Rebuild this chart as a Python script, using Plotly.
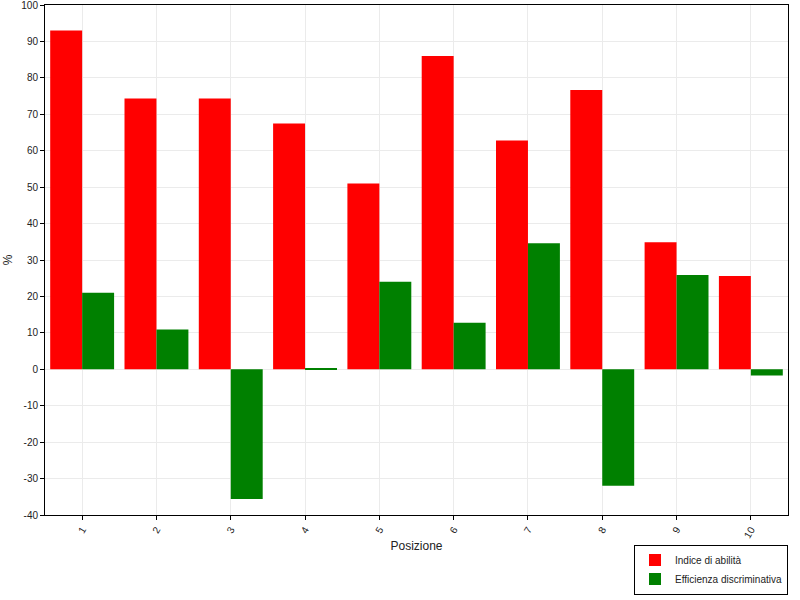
import plotly.graph_objects as go

# Data
positions = ["1", "2", "3", "4", "5", "6", "7", "8", "9", "10"]
indice_abilita = [93.0, 74.3, 74.3, 67.5, 51.0, 86.0, 62.8, 76.7, 34.9, 25.6]
efficienza_discr = [21.0, 10.9, -35.6, 0.3, 24.0, 12.8, 34.6, -32.0, 25.9, -1.7]
y_ticks = list(range(-40, 101, 10))

fig = go.Figure()
fig.add_trace(go.Bar(x=positions, y=indice_abilita, name="Indice di abilità",
                     marker=dict(color="#ff0000", line_width=0)))
fig.add_trace(go.Bar(x=positions, y=efficienza_discr, name="Efficienza discriminativa",
                     marker=dict(color="#008000", line_width=0)))

axis_common = dict(showline=True, linecolor="black", linewidth=1, mirror=True,
                   ticks="outside", ticklen=4, tickcolor="black", automargin=False,
                   showgrid=True, gridcolor="#ebebeb", gridwidth=1, zeroline=False,
                   ticklabeloverflow="allow")

fig.update_layout(
    width=800, height=600,
    margin=dict(l=45, r=12, t=5, b=83),
    paper_bgcolor="white", plot_bgcolor="white",
    font=dict(family="Liberation Sans, Arial, sans-serif", size=10, color="#222"),
    barmode="group", bargap=0.14, bargroupgap=0,
    xaxis=dict(axis_common, title=dict(text="Posizione", standoff=2), tickangle=-60),
    yaxis=dict(axis_common, title=dict(text="%", standoff=6), range=[-40, 100],
               tickvals=y_ticks, ticktext=[str(v) for v in y_ticks]),
    legend=dict(x=1, xanchor="right", y=-0.156, yanchor="bottom",
                bordercolor="black", borderwidth=1, bgcolor="white",
                font=dict(size=10), tracegroupgap=0, itemwidth=30),
    showlegend=True,
)

# drop the browser's default 8px body margin so the figure fills the window
fig.write_html("out.html", config={"displayModeBar": False},
               post_script="document.body.style.margin='0';")
